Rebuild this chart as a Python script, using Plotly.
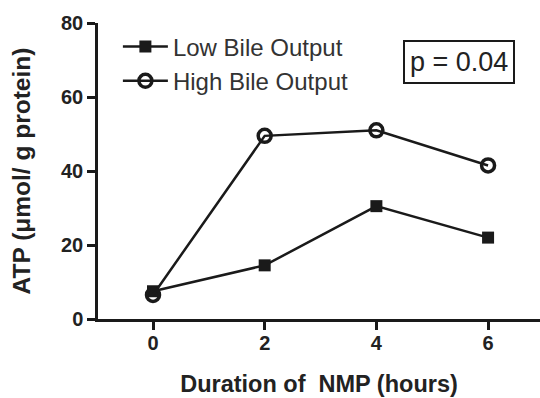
import plotly.graph_objects as go

hours = [0, 2, 4, 6]
low_bile = [7.5, 14.5, 30.5, 22.0]
high_bile = [6.5, 49.5, 51.0, 41.5]
y_ticks = [0, 20, 40, 60, 80]
x_ticks = [0, 2, 4, 6]

FONT = "Arial, Liberation Sans, sans-serif"

fig = go.Figure()
fig.add_trace(go.Scatter(
    x=hours, y=low_bile, name="Low Bile Output", mode="lines+markers",
    line=dict(color="#1a1a1a", width=2.5),
    marker=dict(symbol="square", size=12, color="#1a1a1a"),
))
fig.add_trace(go.Scatter(
    x=hours, y=high_bile, name="High Bile Output", mode="lines+markers",
    line=dict(color="#1a1a1a", width=2.5),
    marker=dict(symbol="circle-open", size=13, color="#1a1a1a", line=dict(width=3.5)),
))

fig.update_layout(
    width=540, height=398,
    margin=dict(l=98, r=0, t=23, b=79),
    plot_bgcolor="white", paper_bgcolor="white",
    font=dict(family=FONT, color="#222"),
    showlegend=True,
    legend=dict(
        x=0.045, y=0.995, xanchor="left", yanchor="top",
        font=dict(size=24, color="#333", family=FONT),
        bgcolor="rgba(0,0,0,0)", itemwidth=45, tracegroupgap=0,
    ),
    xaxis=dict(
        range=[-0.985, 6.93], tickvals=x_ticks, ticks="outside", ticklen=8,
        tickwidth=2.5, tickcolor="#1a1a1a", automargin=False, ticklabelstandoff=-4,
        showline=True, linecolor="#1a1a1a", linewidth=2.5, showgrid=False, zeroline=False,
        tickfont=dict(size=20, family=FONT, color="#222", weight="bold"),
        title=dict(text="Duration of  NMP (hours)", standoff=23,
                   font=dict(size=23.5, family=FONT, color="#222", weight="bold")),
    ),
    yaxis=dict(
        range=[0, 80], tickvals=y_ticks, ticks="outside", ticklen=8,
        tickwidth=2.5, tickcolor="#1a1a1a", automargin=False,
        showline=True, linecolor="#1a1a1a", linewidth=2.5, showgrid=False, zeroline=False,
        tickfont=dict(size=20, family=FONT, color="#222", weight="bold"),
        title=dict(text="ATP (μmol/ g protein)", standoff=24,
                   font=dict(size=24.5, family=FONT, color="#222", weight="bold")),
    ),
    annotations=[dict(
        x=0.816, y=0.867, xref="paper", yref="paper", showarrow=False,
        xanchor="center", yanchor="middle",
        text="p = 0.04", font=dict(size=27, family=FONT, color="#222"),
        bordercolor="#1a1a1a", borderwidth=2, borderpad=5, bgcolor="white",
    )],
)

fig.write_html("out.html", config={"displayModeBar": False},
               post_script="document.body.style.margin='0';")
